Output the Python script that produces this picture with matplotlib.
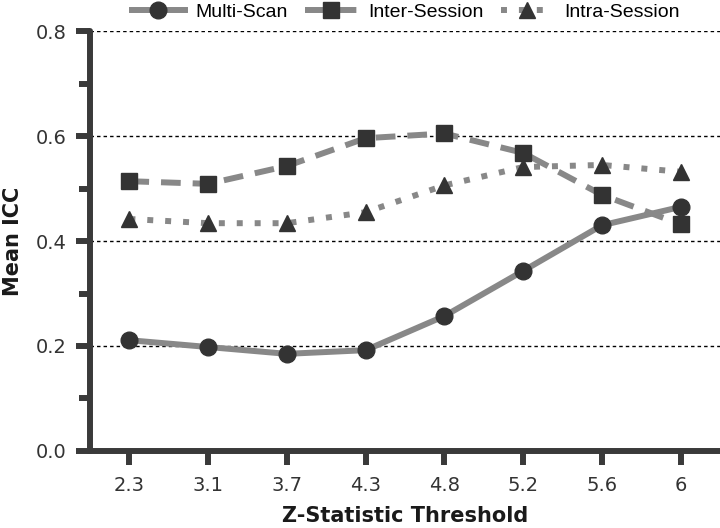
import numpy as np
import matplotlib
matplotlib.use("Agg")
import matplotlib.pyplot as plt
from matplotlib.ticker import MultipleLocator

# dados
thresholds = ["2.3", "3.1", "3.7", "4.3", "4.8", "5.2", "5.6", "6"]
multi_scan = [0.211, 0.198, 0.185, 0.192, 0.257, 0.343, 0.430, 0.465]
inter_session = [0.514, 0.509, 0.543, 0.596, 0.605, 0.568, 0.488, 0.432]
intra_session = [0.442, 0.434, 0.434, 0.455, 0.506, 0.541, 0.545, 0.532]

line_col = "#888888"
mark_col = "#333333"
axis_col = "#3a3a3a"

fig = plt.figure(figsize=(7.2, 5.28), dpi=100)
ax = fig.add_axes([0.125, 0.146, 0.875, 0.795])

x = np.arange(len(thresholds))

# linhas de grade
for g in [0.2, 0.4, 0.6, 0.8]:
    ax.axhline(g, color="black", lw=1.0, ls=(0, (2.5, 2.2)), zorder=1)

ax.plot(x, multi_scan, color=line_col, lw=4.3, marker="o", ms=12,
        mfc=mark_col, mec=mark_col, label="Multi-Scan", zorder=3)
ax.plot(x, inter_session, color=line_col, lw=4.3, ls=(0, (3.3, 2.0)),
        dash_capstyle="butt", marker="s", ms=12, mfc=mark_col, mec=mark_col,
        label="Inter-Session", zorder=3)
ax.plot(x, intra_session, color=line_col, lw=4.3, ls=(0, (1, 2.0)),
        dash_capstyle="butt", marker="^", ms=12, mfc=mark_col, mec=mark_col,
        label="Intra-Session", zorder=3)

ax.set_xlim(-0.5, len(thresholds) - 0.5)
ax.set_ylim(0, 0.8)
ax.set_xticks(x)
ax.set_xticklabels(thresholds)
ax.yaxis.set_major_locator(MultipleLocator(0.2))
ax.yaxis.set_minor_locator(MultipleLocator(0.1))
ax.yaxis.set_major_formatter(lambda v, p: f"{v:.1f}")

for s in ["top", "right"]:
    ax.spines[s].set_visible(False)
for s in ["left", "bottom"]:
    ax.spines[s].set_linewidth(4.3)
    ax.spines[s].set_color(axis_col)
    ax.spines[s].set_capstyle("round")

ax.tick_params(axis="both", which="major", length=10, width=4.3,
               color=axis_col, labelsize=14, labelcolor="#333333", pad=7)
ax.tick_params(axis="x", which="major", pad=8)
ax.tick_params(axis="y", which="minor", length=8, width=4.3, color=axis_col)

ax.set_xlabel("Z-Statistic Threshold", fontsize=15, fontweight="bold",
              color="#1a1a1a", labelpad=8)
ax.set_ylabel("Mean ICC", fontsize=15, fontweight="bold",
              color="#1a1a1a", labelpad=9)

fig.legend(loc="center", bbox_to_anchor=(406 / 720, 1 - 12 / 528), ncol=3,
           frameon=False, handlelength=2.7, columnspacing=0.9, handletextpad=0.55,
           prop={"family": "Liberation Sans", "size": 14})

fig.savefig("out.png", dpi=100)
